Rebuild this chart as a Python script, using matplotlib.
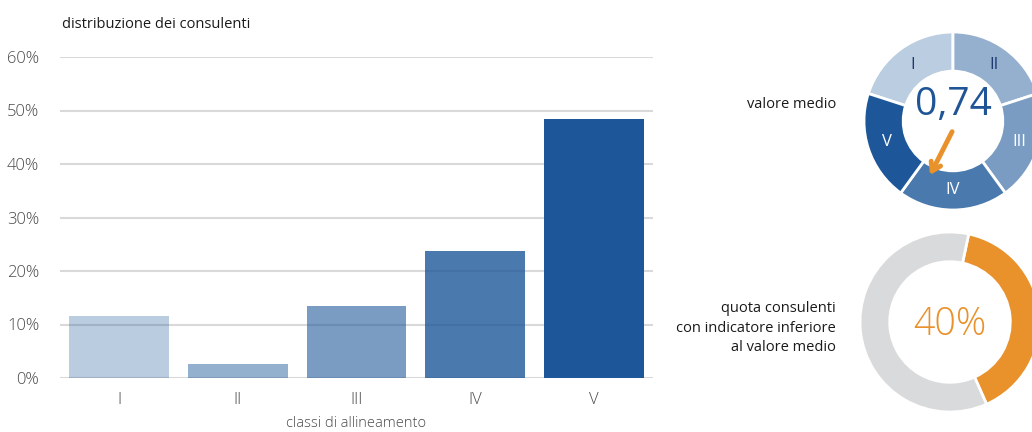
import numpy as np
import matplotlib
matplotlib.use("Agg")
import matplotlib.pyplot as plt

plt.rcParams['font.family'] = ['Open Sans', 'DejaVu Sans']

# --- data -------------------------------------------------------------
classes = ["I", "II", "III", "IV", "V"]
shares = [11.6, 2.6, 13.5, 23.7, 48.4]          # % of consultants per class
base_blue = "#1d5799"
class_alphas = [0.30, 0.47, 0.59, 0.80, 1.0]
ring_label_colors = ["#1f3a6e", "#1f3a6e", "white", "white", "white"]
y_ticks = [0, 10, 20, 30, 40, 50, 60]
mean_value = 0.74
share_below_mean = 40                           # %

W, H = 1032, 432
fig = plt.figure(figsize=(W / 100, H / 100), dpi=100)

def px_axes(left, top, right, bottom):
    return fig.add_axes([left / W, 1 - bottom / H, (right - left) / W, (bottom - top) / H])

def tint(color, alpha):
    rgb = np.array(matplotlib.colors.to_rgb(color))
    return tuple(1 - (1 - rgb) * alpha)

# --- bar chart --------------------------------------------------------
ax = px_axes(60, 57, 653, 378)
x = np.arange(len(classes))
ax.set_axisbelow(True)
ax.yaxis.grid(True, color="#d9d9d9", linewidth=1.5)
for xi, v, a in zip(x, shares, class_alphas):
    ax.bar(xi, v, width=0.84, color=base_blue, alpha=a, zorder=2)
ax.set_xlim(-0.5, len(classes) - 0.5)
ax.set_ylim(0, 60)
ax.set_yticks(y_ticks)
ax.set_yticklabels([f"{v}%" for v in y_ticks])
ax.set_xticks(x)
ax.set_xticklabels(classes)
for s in ax.spines.values():
    s.set_visible(False)
ax.tick_params(axis='both', length=0, colors="#4a4a4a", labelsize=12)
ax.tick_params(axis='y', pad=15)
ax.tick_params(axis='x', pad=10)
for lab in ax.get_xticklabels() + ax.get_yticklabels():
    lab.set_fontweight("light")
ax.set_xlabel("classi di allineamento", color="#4a4a4a", fontsize=10.5,
              labelpad=6, fontweight="light")
fig.text(62 / W, 1 - 25 / H, "distribuzione dei consulenti", fontsize=10.5,
         color="#1a1a1a", va="center", ha="left")

# --- gauge donut: mean value -----------------------------------------
cx1, cy1, r1 = 953, 121, 89
ax1 = px_axes(cx1 - r1, cy1 - r1, cx1 + r1, cy1 + r1)
wedges, _ = ax1.pie([1] * len(classes),
                    colors=[tint(base_blue, a) for a in class_alphas],
                    startangle=162, counterclock=False, radius=1,
                    wedgeprops=dict(width=0.44, edgecolor="white", linewidth=2))
ax1.set_xlim(-1, 1)
ax1.set_ylim(-1, 1)
ax1.set_aspect("equal")
ax1.axis("off")
for w, lab, c in zip(wedges, classes, ring_label_colors):
    ang = np.deg2rad((w.theta1 + w.theta2) / 2)
    ax1.text(0.78 * np.cos(ang), 0.78 * np.sin(ang), lab, color=c,
             fontsize=12, ha="center", va="center")
ax1.text(0, 0.18, f"{mean_value:.2f}".replace(".", ","), color="#1f5597",
         fontsize=28, ha="center", va="center")
tip_ang = np.deg2rad(-113)
ax1.annotate("", xy=(0.66 * np.cos(tip_ang), 0.66 * np.sin(tip_ang)),
             xytext=(-0.01, -0.12),
             arrowprops=dict(arrowstyle="->,head_length=0.6,head_width=0.38",
                             color="#e9912a", lw=3.5, shrinkA=0, shrinkB=0,
                             capstyle="round", joinstyle="round"))
fig.text(836 / W, 1 - 104 / H, "valore medio", fontsize=10.5, color="#1a1a1a",
         ha="right", va="center")

# --- donut: share below mean -----------------------------------------
cx2, cy2, r2 = 950, 322, 90
ax2 = px_axes(cx2 - r2, cy2 - r2, cx2 + r2, cy2 + r2)
ax2.pie([share_below_mean, 100 - share_below_mean], colors=["#e9912a", "#d9dadb"],
        startangle=78, counterclock=False, radius=1,
        wedgeprops=dict(width=0.33, edgecolor="white", linewidth=2))
ax2.set_xlim(-1, 1)
ax2.set_ylim(-1, 1)
ax2.set_aspect("equal")
ax2.axis("off")
ax2.text(0, -0.03, f"{share_below_mean}%", color="#e9912a", fontsize=27,
         ha="center", va="center", fontweight="light")
fig.text(836 / W, 1 - 328 / H,
         "quota consulenti\ncon indicatore inferiore\nal valore medio",
         fontsize=10.5, color="#1a1a1a", ha="right", va="center",
         multialignment="right", linespacing=1.45)

fig.savefig("out.png", dpi=100)
